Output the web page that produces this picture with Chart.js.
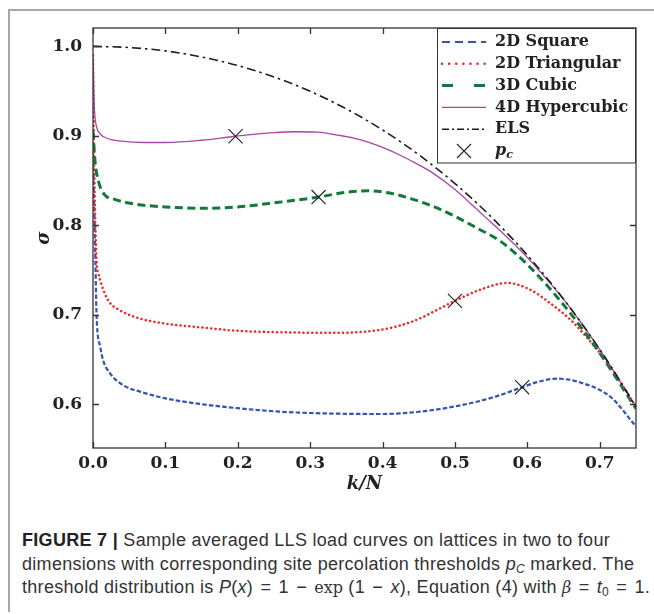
<!DOCTYPE html>
<html>
<head>
<meta charset="utf-8">
<script src="https://cdn.jsdelivr.net/npm/chart.js@4.4.1/dist/chart.umd.min.js"></script>
<style>
  html, body { margin: 0; padding: 0; background: #fff; }
  body { width: 654px; height: 614px; overflow: hidden; position: relative; }
  #frame { position: absolute; left: 8px; top: 9px; width: 700px; height: 601px;
           border-left: 2px solid #a6a6a6; border-top: 2px solid #a6a6a6; }
  #plot { position: absolute; left: 0; top: 0; }
  .cap { position: absolute; left: 22px; font-family: "Liberation Sans", Arial, sans-serif;
         font-size: 18px; letter-spacing: 0.3px; color: #333; white-space: nowrap; }
  .cap b { color: #222; }
  .serif { font-family: "DejaVu Serif", serif; font-size: 16px; letter-spacing: 0; }
  .cap sub { font-size: 12px; vertical-align: -3px; }
  .op { padding: 0 2px; }
</style>
</head>
<body>
<div id="frame"></div>
<canvas id="plot" width="654" height="510"></canvas>
<div class="cap" style="top:530px"><b>FIGURE 7 |</b> Sample averaged LLS load curves on lattices in two to four</div>
<div class="cap" style="top:554px">dimensions with corresponding site percolation thresholds <i>p</i><sub><i>C</i></sub> marked. The</div>
<div class="cap" style="top:577px">threshold distribution is <i>P</i>(<i>x</i>) <span class="op">=</span> 1 <span class="op">&minus;</span> <span class="serif">exp</span> (1 <span class="op">&minus;</span> <i>x</i>), Equation (4) with <i class="serif">&beta;</i> <span class="op">=</span> <i>t</i><sub>0</sub> <span class="op">=</span> 1.</div>

<script>
// k/N positions and averaged load sigma for each lattice
const kSquare     = [0, 0.003, 0.005, 0.01, 0.014, 0.024, 0.042, 0.065, 0.1, 0.15, 0.2, 0.26, 0.33, 0.4, 0.45, 0.5, 0.55, 0.593, 0.615, 0.641, 0.678, 0.715, 0.75];
const sigmaSquare = [0.88, 0.772, 0.698, 0.664, 0.649, 0.634, 0.621, 0.614, 0.6065, 0.600, 0.5955, 0.5915, 0.5895, 0.589, 0.5915, 0.5975, 0.607, 0.619, 0.625, 0.6285, 0.623, 0.608, 0.575];

const kTriangular     = [0, 0.002, 0.005, 0.0075, 0.012, 0.021, 0.037, 0.065, 0.1, 0.15, 0.2, 0.26, 0.33, 0.4, 0.443, 0.5, 0.535, 0.572, 0.605, 0.632, 0.66, 0.687, 0.71, 0.733, 0.75];
const sigmaTriangular = [0.99, 0.85, 0.759, 0.746, 0.733, 0.716, 0.705, 0.6957, 0.690, 0.6857, 0.682, 0.6804, 0.6797, 0.6835, 0.693, 0.7155, 0.728, 0.7355, 0.7275, 0.7125, 0.694, 0.670, 0.647, 0.619, 0.597];

const kCubic     = [0, 0.003, 0.008, 0.015, 0.03, 0.055, 0.1, 0.15, 0.2, 0.25, 0.3116, 0.35, 0.38, 0.41, 0.44, 0.47, 0.5, 0.53, 0.563, 0.6, 0.65, 0.7, 0.75];
const sigmaCubic = [0.905, 0.87, 0.848, 0.835, 0.829, 0.824, 0.8205, 0.819, 0.8205, 0.825, 0.8315, 0.837, 0.8385, 0.836, 0.8295, 0.821, 0.810, 0.797, 0.782, 0.756, 0.711, 0.657, 0.595];

const kHyper     = [0, 0.002, 0.005, 0.01, 0.02, 0.04, 0.07, 0.1, 0.15, 0.1969, 0.25, 0.28, 0.31, 0.34, 0.36, 0.38, 0.4, 0.425, 0.45, 0.47, 0.5, 0.52, 0.54, 0.563, 0.6, 0.63, 0.655, 0.7, 0.75];
const sigmaHyper = [0.985, 0.93, 0.91, 0.902, 0.897, 0.894, 0.8925, 0.8925, 0.895, 0.8995, 0.9035, 0.9045, 0.904, 0.9005, 0.8975, 0.893, 0.887, 0.878, 0.8675, 0.858, 0.840, 0.8255, 0.8105, 0.7935, 0.764, 0.7365, 0.712, 0.661, 0.5966];

const kEls     = [0, 0.05, 0.1, 0.15, 0.2, 0.25, 0.3, 0.35, 0.4, 0.45, 0.5, 0.55, 0.6, 0.65, 0.7, 0.725, 0.75];
const sigmaEls = [1.0, 0.9987, 0.9949, 0.9881, 0.9785, 0.9658, 0.9497, 0.9300, 0.9065, 0.8788, 0.8466, 0.8093, 0.7665, 0.7174, 0.6612, 0.6300, 0.5966];

// site percolation thresholds marked on each curve
const pcK     = [0.5927, 0.5, 0.3116, 0.1969];
const pcSigma = [0.619, 0.7155, 0.8315, 0.8995];

const seriesNames = ['2D Square', '2D Triangular', '3D Cubic', '4D Hypercubic', 'ELS'];
const xTicks = [0, 0.1, 0.2, 0.3, 0.4, 0.5, 0.6, 0.7];
const yTicks = [0.6, 0.7, 0.8, 0.9, 1.0];

const toPoints = (ks, ss) => ks.map((k, i) => ({ x: k, y: ss[i] }));

// line look in the plot and in the legend handle
const styles = [
  { color: '#3553b0', width: 2.2, dash: [4.5, 2.2], cap: 'butt',  legendDash: [8, 5] },
  { color: '#f52424', width: 2.5, dash: [0.1, 4.3], cap: 'round', legendDash: [0.1, 7] },
  { color: '#11793a', width: 3,   dash: [8, 4.5],   cap: 'butt',  legendDash: [11, 21] },
  { color: '#a845a8', width: 1.3, dash: [],         cap: 'butt',  legendDash: [] },
  { color: '#1e1e1e', width: 1.6, dash: [9, 4, 2.5, 4], cap: 'butt', legendDash: [7, 3, 2, 3] }
];

const curves = [
  toPoints(kSquare, sigmaSquare),
  toPoints(kTriangular, sigmaTriangular),
  toPoints(kCubic, sigmaCubic),
  toPoints(kHyper, sigmaHyper),
  toPoints(kEls, sigmaEls)
];

const datasets = curves.map((pts, i) => ({
  label: seriesNames[i],
  data: pts,
  borderColor: styles[i].color,
  borderWidth: styles[i].width,
  borderDash: styles[i].dash,
  borderCapStyle: styles[i].cap,
  pointRadius: 0,
  fill: false,
  cubicInterpolationMode: 'monotone',
  order: 6 - i
}));

datasets.push({
  label: 'pc',
  data: toPoints(pcK, pcSigma),
  showLine: false,
  pointStyle: 'crossRot',
  pointRadius: 10,
  pointBorderColor: '#222',
  pointBorderWidth: 1.1,
  order: 0
});

const tickFont = { family: 'DejaVu Serif', weight: 'bold', size: 17 };
const titleFont = { family: 'DejaVu Serif', weight: 'bold', style: 'italic', size: 18 };

// axes box with inward ticks, plus the boxed legend in the upper right
const boxPlugin = {
  id: 'axesBox',
  afterDatasetsDraw(chart) {
    const { ctx, chartArea: a, scales } = chart;
    ctx.save();
    ctx.strokeStyle = '#333';
    ctx.lineWidth = 1.3;
    ctx.setLineDash([]);
    ctx.strokeRect(a.left, a.top, a.right - a.left, a.bottom - a.top);
    ctx.beginPath();
    xTicks.forEach(v => {
      const px = Math.round(scales.x.getPixelForValue(v)) + 0.5;
      ctx.moveTo(px, a.bottom); ctx.lineTo(px, a.bottom - 6);
      ctx.moveTo(px, a.top); ctx.lineTo(px, a.top + 6);
    });
    yTicks.forEach(v => {
      const py = Math.round(scales.y.getPixelForValue(v)) + 0.5;
      ctx.moveTo(a.left, py); ctx.lineTo(a.left + 6, py);
      ctx.moveTo(a.right, py); ctx.lineTo(a.right - 6, py);
    });
    ctx.stroke();

    // legend
    const w = 199, h = 135.5;
    const lx = a.right - w, ly = a.top;
    ctx.fillStyle = '#fff';
    ctx.fillRect(lx, ly, w, h);
    ctx.lineWidth = 1;
    ctx.strokeStyle = '#333';
    ctx.strokeRect(lx + 0.5, ly + 0.5, w - 1, h - 1);
    ctx.textBaseline = 'middle';
    ctx.textAlign = 'left';
    const rowY = i => ly + 14 + i * 21.8;
    seriesNames.forEach((name, i) => {
      const s = styles[i];
      const y = rowY(i);
      ctx.beginPath();
      ctx.strokeStyle = s.color;
      ctx.lineWidth = s.width;
      ctx.lineCap = s.cap;
      ctx.setLineDash(s.legendDash);
      ctx.moveTo(lx + 5, y); ctx.lineTo(lx + 49, y);
      ctx.stroke();
      ctx.setLineDash([]);
      ctx.lineCap = 'butt';
      ctx.fillStyle = '#222';
      ctx.font = 'bold 16px "DejaVu Serif"';
      ctx.fillText(name, lx + 58, y);
    });
    const py = rowY(5);
    const cx = lx + 27;
    ctx.strokeStyle = '#222';
    ctx.lineWidth = 1.1;
    ctx.beginPath();
    ctx.moveTo(cx - 7, py - 7); ctx.lineTo(cx + 7, py + 7);
    ctx.moveTo(cx - 7, py + 7); ctx.lineTo(cx + 7, py - 7);
    ctx.stroke();
    ctx.fillStyle = '#222';
    ctx.font = 'italic bold 16px "DejaVu Serif"';
    ctx.fillText('p', lx + 58, py);
    const pw = ctx.measureText('p').width;
    ctx.font = 'italic bold 11px "DejaVu Serif"';
    ctx.fillText('c', lx + 58 + pw, py + 4);
    ctx.restore();
  }
};

new Chart(document.getElementById('plot'), {
  type: 'line',
  data: { datasets },
  plugins: [boxPlugin],
  options: {
    responsive: false,
    animation: false,
    devicePixelRatio: 1,
    layout: { padding: { left: 0, top: 28, right: 18, bottom: 0 } },
    plugins: { legend: { display: false }, tooltip: { enabled: false } },
    scales: {
      x: {
        type: 'linear', min: 0, max: 0.75,
        afterBuildTicks: s => { s.ticks = xTicks.map(v => ({ value: v })); },
        afterFit: s => { s.height = 62; },
        grid: { display: false, drawTicks: false },
        border: { display: false },
        ticks: { padding: 5, color: '#222', font: tickFont, maxRotation: 0, autoSkip: false,
                 callback: v => v.toFixed(1) },
        title: { display: true, text: 'k/N', color: '#222', font: titleFont, padding: { top: 0, bottom: 15 } }
      },
      y: {
        type: 'linear', min: 0.551, max: 1.0205,
        afterBuildTicks: s => { s.ticks = yTicks.map(v => ({ value: v })); },
        afterFit: s => { s.width = 93; },
        grid: { display: false, drawTicks: false },
        border: { display: false },
        ticks: { padding: 11, color: '#222', font: tickFont, callback: v => v.toFixed(1) },
        title: { display: true, text: 'σ', color: '#222', font: titleFont, padding: { top: 34, bottom: 0 } }
      }
    }
  }
});
</script>
</body>
</html>
